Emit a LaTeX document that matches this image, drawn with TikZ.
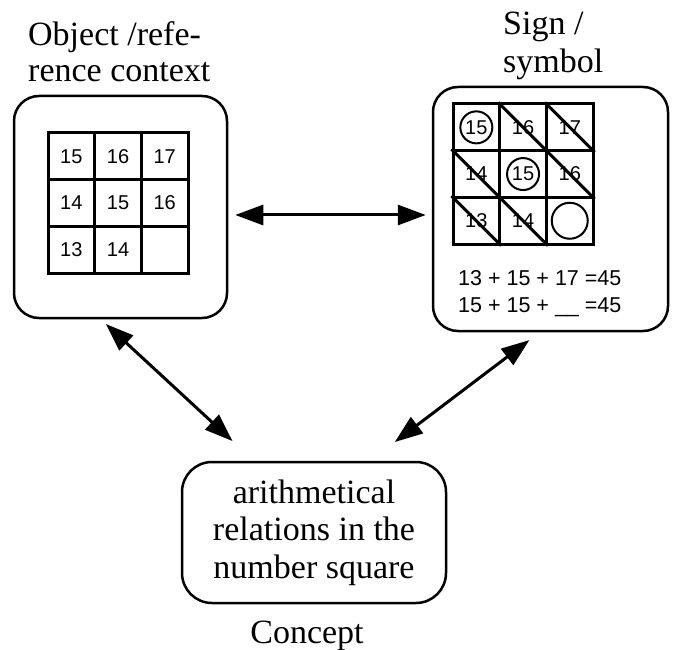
\documentclass[tikz,border=0pt]{standalone}
\usepackage{fontspec}
\setmainfont{Liberation Serif}
\newfontfamily\numfont{Liberation Sans}
\usetikzlibrary{arrows.meta}

\tikzset{
	box/.style={draw, line width=2.5pt, rounded corners=25pt, inner sep=0pt},
	title/.style={inner sep=0pt, align=left, font=\fontsize{34}{36}\selectfont},
	cell/.style={draw, line width=3pt, minimum size=46.7pt, inner sep=0pt, font=\numfont\fontsize{20}{24}\selectfont},
	ring/.style={draw, circle, line width=2pt, inner sep=0pt},
	link/.style={{Triangle[length=28pt,width=20pt]}-{Triangle[length=28pt,width=20pt]}, line width=3pt}
}

\begin{document}
\begin{tikzpicture}[x=1pt,y=-1pt]
	\useasboundingbox (0,0) rectangle (678,650);

	\node[box, minimum width=213pt, minimum height=222pt] (objbox) at (120.5,207) {};
	\node[box, minimum width=235pt, minimum height=244pt] (signbox) at (550.5,209) {};
	\node[box, rounded corners=30pt, minimum width=264pt, minimum height=141pt, align=center, font=\fontsize{34}{37.5}\selectfont] (conceptbox) at (314,532.5) {arithmetical\\relations in the\\number square};

	\node[title, anchor=base west] (objtitle) at (28,82) {Object /refe-\\rence context};
	\node[title, anchor=base west, font=\fontsize{34}{38}\selectfont] (signtitle) at (503,73) {Sign /\\symbol};
	\node[title, anchor=base] (concepttitle) at (307,643) {Concept};

	\foreach \val [count=\i from 0] in {15,16,17,14,15,16,13,14,{}} {
		\pgfmathtruncatemacro\r{div(\i,3)}
		\pgfmathtruncatemacro\c{mod(\i,3)}
		\node[cell] (l-\r-\c) at (71.35+46.7*\c,156.35+46.7*\r) {\val};
	}
	\foreach \val [count=\i from 0] in {15,16,17,14,15,16,13,14,{}} {
		\pgfmathtruncatemacro\r{div(\i,3)}
		\pgfmathtruncatemacro\c{mod(\i,3)}
		\node[cell] (r-\r-\c) at (476.35+46.7*\c,127.35+46.7*\r) {\val};
	}
	\node[ring, minimum size=32pt] (ring1) at (r-0-0) {};
	\node[ring, minimum size=32pt] (ring2) at (r-1-1) {};
	\node[ring, minimum size=36pt] (ring3) at (r-2-2) {};
	\foreach \cl in {r-0-1,r-0-2,r-1-0,r-1-2,r-2-0,r-2-1}
		\draw[line width=3pt] (\cl.north west) -- (\cl.south east);

	\node[inner sep=0pt, anchor=base west, align=left, font=\numfont\fontsize{21.5}{27}\selectfont] (sums) at (458,312) {13 + 15 + 17 =45\\15 + 15 + \_\_ =45};

	\draw[link, shorten <=7pt, shorten >=6pt] ([yshift=-8pt]objbox.east) -- ([yshift=-8pt]objbox.east -| signbox.west);
	\draw[link, shorten <=7pt, shorten >=29pt] (objbox.-100.5) -- (conceptbox.130.2);
	\draw[link, shorten <=31pt, shorten >=13pt] (conceptbox.52.4) -- (signbox.-95.7);
\end{tikzpicture}
\end{document}
